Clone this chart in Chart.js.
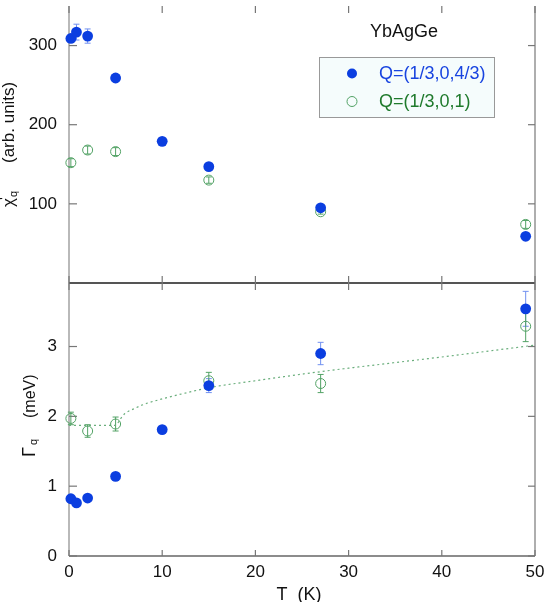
<!DOCTYPE html>
<html>
<head>
<meta charset="utf-8">
<script src="https://cdn.jsdelivr.net/npm/chart.js@4.4.1/dist/chart.umd.min.js"></script>
<style>
  html, body { margin: 0; padding: 0; background: #fff; }
</style>
</head>
<body>
<canvas id="chart" width="545" height="602"></canvas>
<script>
// temperatures (K)
const tempBlue = [0.2, 0.8, 2, 5, 10, 15, 27, 49];
const tempGreen = [0.2, 2, 5, 15, 27, 49];

// chi'_q (arb. units)
const chiBlue = [309, 317, 312, 259, 179, 147, 95, 59];
const chiBlueErr = [4, 10, 9, 3, 3, 3, 3, 3];
const chiGreen = [152, 168, 166, 130, 90, 74];
const chiGreenErr = [5, 5, 5, 4, 3, 5];

// Gamma_q (meV)
const gammaBlue = [0.82, 0.76, 0.83, 1.14, 1.81, 2.44, 2.90, 3.54];
const gammaBlueErr = [0.03, 0.03, 0.03, 0.03, 0.05, 0.1, 0.16, 0.25];
const gammaGreen = [1.97, 1.79, 1.89, 2.51, 2.47, 3.29];
const gammaGreenErr = [0.09, 0.09, 0.1, 0.12, 0.13, 0.22];

// dotted guide line through the Q=(1/3,0,1) widths
const fitT = [0, 2, 5, 5.5, 6, 7, 8, 10, 13, 15, 20, 27, 30, 35, 40, 50];
const fitGamma = [1.87, 1.87, 1.87, 1.96, 2.04, 2.11, 2.17, 2.25, 2.35, 2.41, 2.51, 2.64, 2.69, 2.77, 2.85, 3.02];

const seriesNames = ['Q=(1/3,0,4/3)', 'Q=(1/3,0,1)'];
const xTicks = [0, 10, 20, 30, 40, 50];
const chiTicks = [100, 200, 300];
const gammaTicks = [0, 1, 2, 3];

const FONT = '"Liberation Sans", Arial, Helvetica, sans-serif';
const BLUE = '#0b3ee0';
const BLUE_ERR = '#7190f0';
const GREEN = '#52a265';
const GREEN_TEXT = '#1f7a2c';

const pts = (xs, ys) => xs.map((x, i) => ({ x: x, y: ys[i] }));

function line(ctx, x1, y1, x2, y2, color, w) {
  ctx.beginPath();
  ctx.strokeStyle = color;
  ctx.lineWidth = w;
  ctx.moveTo(x1, y1);
  ctx.lineTo(x2, y2);
  ctx.stroke();
}

// rotated text, reading bottom to top; parts are placed along the text direction
function vText(ctx, x, y, parts, color) {
  ctx.save();
  ctx.translate(x, y);
  ctx.rotate(-Math.PI / 2);
  ctx.fillStyle = color;
  ctx.textBaseline = 'alphabetic';
  ctx.textAlign = 'left';
  parts.forEach(p => {
    ctx.font = p.size + 'px ' + FONT;
    ctx.fillText(p.t, p.at, p.dy || 0);
  });
  ctx.restore();
}

// drop the label overhang padding so the plot fills the frame exactly
function fixY(s) {
  s.width = 69;
  s.paddingTop = 0;
  s.paddingBottom = 0;
}
function fixX(s) {
  s.height = 46;
  s.paddingLeft = 0;
  s.paddingRight = 0;
}

const framePlugin = {
  id: 'frame',
  beforeDatasetsDraw(chart) {
    const ctx = chart.ctx;
    const ca = chart.chartArea;
    const xs = chart.scales.x, yc = chart.scales.yChi, yg = chart.scales.yGamma;
    const mid = yc.bottom;
    ctx.save();
    line(ctx, ca.left, ca.top, ca.left, ca.bottom, '#8a8a8a', 1.2);
    line(ctx, ca.right, ca.top, ca.right, ca.bottom, '#9a9a9a', 1.6);
    line(ctx, ca.left, mid, ca.right, mid, '#555', 2);
    line(ctx, ca.left, ca.bottom, ca.right, ca.bottom, '#666', 1.6);
    const tc = '#777';
    chiTicks.forEach(v => {
      const y = yc.getPixelForValue(v);
      line(ctx, ca.left, y, ca.left + 8, y, tc, 1.2);
      line(ctx, ca.right - 7, y, ca.right, y, tc, 1.2);
    });
    gammaTicks.forEach(v => {
      const y = yg.getPixelForValue(v);
      line(ctx, ca.left, y, ca.left + 8, y, tc, 1.2);
      line(ctx, ca.right - 7, y, ca.right, y, tc, 1.2);
    });
    xTicks.forEach(v => {
      const x = xs.getPixelForValue(v);
      line(ctx, x, ca.top, x, ca.top + 7, tc, 1.2);
      line(ctx, x, mid - 7, x, mid + 7, tc, 1.2);
      line(ctx, x, ca.bottom - 6, x, ca.bottom, tc, 1.2);
    });
    // error bars, under the markers
    chart.data.datasets.forEach(ds => {
      if (!ds.err) return;
      const ys = chart.scales[ds.yAxisID];
      ds.data.forEach((p, i) => {
        const px = xs.getPixelForValue(p.x);
        const y1 = ys.getPixelForValue(p.y - ds.err[i]);
        const y2 = ys.getPixelForValue(p.y + ds.err[i]);
        line(ctx, px, y1, px, y2, ds.errColor, 1);
        line(ctx, px - 3, y1, px + 3, y1, ds.errColor, 1);
        line(ctx, px - 3, y2, px + 3, y2, ds.errColor, 1);
      });
    });
    ctx.restore();
  },
  afterDraw(chart) {
    const ctx = chart.ctx;
    ctx.save();
    // sample name
    ctx.fillStyle = '#111';
    ctx.font = '18px ' + FONT;
    ctx.textBaseline = 'middle';
    ctx.textAlign = 'left';
    ctx.fillText('YbAgGe', 370, 32);
    // legend box
    ctx.fillStyle = '#f5fcfc';
    ctx.fillRect(319.5, 57.5, 175, 60);
    ctx.strokeStyle = '#999';
    ctx.lineWidth = 1;
    ctx.strokeRect(319.5, 57.5, 175, 60);
    ctx.beginPath();
    ctx.arc(352, 73.5, 5, 0, Math.PI * 2);
    ctx.fillStyle = BLUE;
    ctx.fill();
    ctx.beginPath();
    ctx.arc(352, 101.5, 5, 0, Math.PI * 2);
    ctx.strokeStyle = GREEN;
    ctx.stroke();
    ctx.font = '18px ' + FONT;
    ctx.fillStyle = '#1844e0';
    ctx.fillText(seriesNames[0], 379, 74);
    ctx.fillStyle = GREEN_TEXT;
    ctx.fillText(seriesNames[1], 379, 102);
    // x title
    ctx.fillStyle = '#111';
    ctx.textAlign = 'center';
    ctx.fillText('T  (K)', 299, 595);
    ctx.restore();
    // y titles
    vText(ctx, 14, 207, [
      { t: 'χ', size: 17, at: 0 },
      { t: "'", size: 15, at: 7, dy: -5 },
      { t: 'q', size: 11, at: 10, dy: 3 },
      { t: '(arb. units)', size: 17, at: 44 }
    ], '#111');
    vText(ctx, 35, 457, [
      { t: 'Γ', size: 18, at: 0 },
      { t: 'q', size: 11, at: 12, dy: 2 },
      { t: '(meV)', size: 16, at: 39 }
    ], '#111');
  }
};

const tickFont = { family: FONT, size: 17 };

new Chart(document.getElementById('chart'), {
  type: 'scatter',
  data: {
    datasets: [
      {
        label: seriesNames[0], data: pts(tempBlue, chiBlue), yAxisID: 'yChi',
        err: chiBlueErr, errColor: BLUE_ERR,
        backgroundColor: BLUE, borderColor: BLUE, pointRadius: 5.4, borderWidth: 0, clip: false
      },
      {
        label: seriesNames[0], data: pts(tempBlue, gammaBlue), yAxisID: 'yGamma',
        err: gammaBlueErr, errColor: BLUE_ERR,
        backgroundColor: BLUE, borderColor: BLUE, pointRadius: 5.4, borderWidth: 0, clip: false
      },
      {
        label: seriesNames[1], data: pts(tempGreen, chiGreen), yAxisID: 'yChi',
        err: chiGreenErr, errColor: GREEN,
        backgroundColor: 'rgba(0,0,0,0)', borderColor: GREEN, pointRadius: 5, borderWidth: 1, clip: false
      },
      {
        label: seriesNames[1], data: pts(tempGreen, gammaGreen), yAxisID: 'yGamma',
        err: gammaGreenErr, errColor: GREEN,
        backgroundColor: 'rgba(0,0,0,0)', borderColor: GREEN, pointRadius: 5, borderWidth: 1, clip: false
      },
      {
        label: 'fit', data: pts(fitT, fitGamma), yAxisID: 'yGamma',
        showLine: true, pointRadius: 0, borderColor: '#6aae7c', borderWidth: 1.2,
        borderDash: [2, 3], cubicInterpolationMode: 'monotone', clip: false
      }
    ]
  },
  options: {
    responsive: false,
    animation: false,
    devicePixelRatio: 1,
    layout: { padding: { top: 0, right: 10, bottom: 0, left: 0 } },
    plugins: { legend: { display: false }, tooltip: { enabled: false } },
    scales: {
      x: {
        type: 'linear', min: 0, max: 50,
        grid: { display: false, drawTicks: false }, border: { display: false },
        afterBuildTicks: s => { s.ticks = xTicks.map(v => ({ value: v })); },
        afterFit: fixX,
        ticks: { color: '#111', font: tickFont, padding: 6, maxRotation: 0 }
      },
      yChi: {
        type: 'linear', position: 'left', stack: 'panels', stackWeight: 280, weight: 2,
        min: 0, max: 350,
        grid: { display: false, drawTicks: false }, border: { display: false },
        afterBuildTicks: s => { s.ticks = chiTicks.map(v => ({ value: v })); },
        afterFit: fixY,
        ticks: { color: '#111', font: tickFont, padding: 12 }
      },
      yGamma: {
        type: 'linear', position: 'left', stack: 'panels', stackWeight: 276, weight: 1,
        min: 0, max: 3.91,
        grid: { display: false, drawTicks: false }, border: { display: false },
        afterBuildTicks: s => { s.ticks = gammaTicks.map(v => ({ value: v })); },
        afterFit: fixY,
        ticks: { color: '#111', font: tickFont, padding: 12 }
      }
    }
  },
  plugins: [framePlugin]
});
</script>
</body>
</html>
